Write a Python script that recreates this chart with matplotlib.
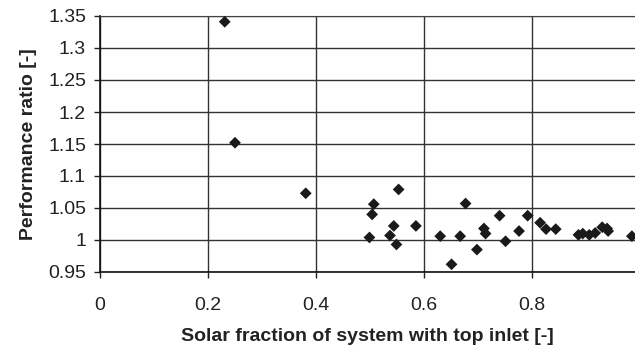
import numpy as np
import matplotlib
matplotlib.use("Agg")
import matplotlib.pyplot as plt

plt.rcParams['font.family'] = ['Liberation Sans', 'DejaVu Sans']

# data
solar_fraction = [0.231, 0.250, 0.381, 0.499, 0.507, 0.504, 0.553, 0.544, 0.537,
                  0.549, 0.585, 0.630, 0.651, 0.667, 0.677, 0.698, 0.711, 0.714,
                  0.740, 0.751, 0.776, 0.792, 0.815, 0.826, 0.844, 0.886, 0.894,
                  0.906, 0.917, 0.930, 0.939, 0.941, 0.985]
perf_ratio = [1.341, 1.152, 1.073, 1.004, 1.056, 1.040, 1.079, 1.022, 1.007,
              0.993, 1.022, 1.006, 0.962, 1.006, 1.057, 0.985, 1.018, 1.010,
              1.038, 0.998, 1.014, 1.038, 1.027, 1.017, 1.017, 1.008, 1.010,
              1.008, 1.011, 1.020, 1.018, 1.014, 1.006]

x_ticks = [0, 0.2, 0.4, 0.6, 0.8]
x_labels = ['0', '0.2', '0.4', '0.6', '0.8']
y_ticks = [0.95, 1.0, 1.05, 1.1, 1.15, 1.2, 1.25, 1.3, 1.35]
y_labels = ['0.95', '1', '1.05', '1.1', '1.15', '1.2', '1.25', '1.3', '1.35']

fig = plt.figure(figsize=(6.35, 3.49), dpi=100)
ax = fig.add_axes([100 / 635, 1 - 272 / 349, 535 / 635, 256 / 349])

ax.scatter(solar_fraction, perf_ratio, marker='D', s=36, color='#1a1a1a',
           edgecolors='none', zorder=3)

ax.set_xlim(0, 535 / 540)
ax.set_ylim(0.95, 1.35)
ax.set_xticks(x_ticks)
ax.set_xticklabels(x_labels)
ax.set_yticks(y_ticks)
ax.set_yticklabels(y_labels)

ax.grid(True, color='#333333', linewidth=1.0)
ax.set_axisbelow(True)

for side in ['left', 'bottom']:
    ax.spines[side].set_color('#111111')
    ax.spines[side].set_linewidth(1.2)
ax.spines['top'].set_color('#444444')
ax.spines['right'].set_visible(False)

ax.tick_params(axis='both', direction='out', length=4, width=1, color='#222222',
               labelsize=14, labelcolor='#222222', pad=6)
ax.tick_params(axis='x', pad=14)

ax.set_xlabel('Solar fraction of system with top inlet [-]', fontsize=14,
              fontweight='bold', color='#222222', labelpad=10)
ax.set_ylabel('Performance ratio [-]', fontsize=14, fontweight='bold',
              color='#222222', labelpad=8)

fig.savefig('out.png', dpi=100)
